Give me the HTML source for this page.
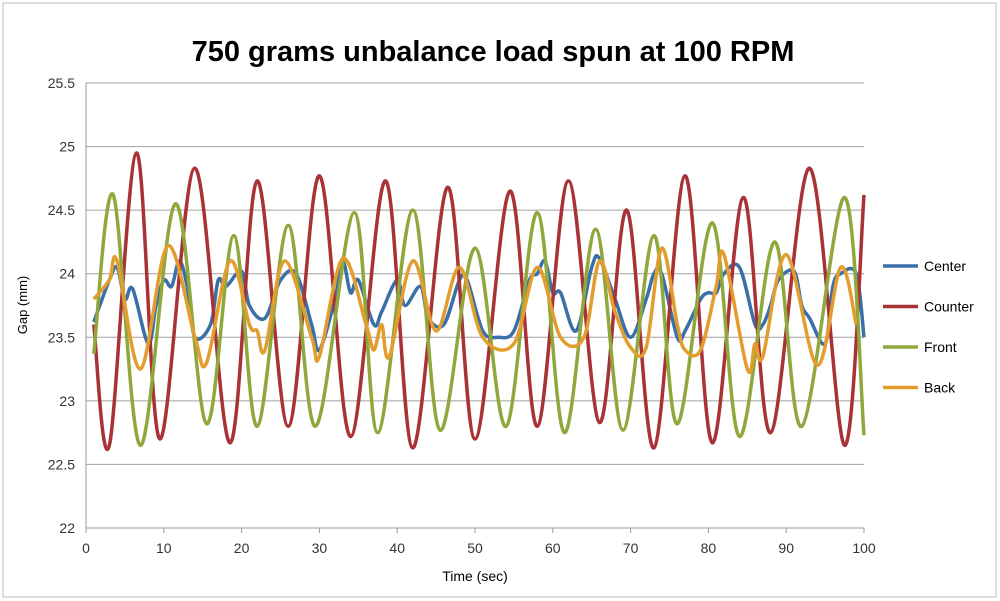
<!DOCTYPE html>
<html><head><meta charset="utf-8"><style>
body{margin:0;background:#fff;font-family:"Liberation Sans",sans-serif}
svg{display:block}
</style></head><body>
<svg id="chart" width="1000" height="601">
<rect x="3" y="3" width="993" height="594" fill="#fff" stroke="#bcbcbc"/>
<text x="493" y="61" text-anchor="middle" font-size="29" font-weight="bold" fill="#000">750 grams unbalance load spun at 100 RPM</text>
<text transform="translate(27,305) rotate(-90)" text-anchor="middle" font-size="13">Gap (mm)</text>
<text x="475" y="581" text-anchor="middle" font-size="14">Time (sec)</text>
<g id="grid"></g><g id="series"></g><g id="legend"></g>
</svg>
<script>
const yTicks=[22,22.5,23,23.5,24,24.5,25,25.5];
const xTicks=[0,10,20,30,40,50,60,70,80,90,100];
const names=["Center","Counter","Front","Back"];
const colors=["#3a6fa8","#a83236","#8fa83c","#e39d2f"];
const centerT=[1,3,4,5,6,8,9,10,11,12,13,14,16,17,18,20,21,23,25,27,29,30,32,33,34,35,37,38,40,41,43,44,46,48,49,51,53,55,57,58,59,60,61,63,65,66,68,70,72,73,74,76,77,79,80,81,82,84,86,87,88,89,91,92,93,95,96,97,99,100];
const centerV=[23.62,23.95,24.05,23.8,23.88,23.45,23.75,23.95,23.9,24.1,23.9,23.5,23.6,23.95,23.9,24.02,23.75,23.65,23.95,24.0,23.6,23.4,23.8,24.1,23.85,23.95,23.6,23.7,23.95,23.75,23.9,23.65,23.6,23.95,23.95,23.55,23.5,23.55,23.95,24.0,24.1,23.85,23.85,23.55,24.05,24.12,23.8,23.5,23.8,24.0,24.0,23.5,23.55,23.8,23.85,23.85,24.0,24.05,23.6,23.6,23.75,23.95,24.02,23.75,23.65,23.45,23.9,24.0,24.0,23.5];
const counterT=[1,3,6.5,9.5,14,18.5,22,26,30,34,38.5,42,46.5,50,54.5,58,62,66,69.5,73,77,80.5,84.5,88,93,97.5,100];
const counterV=[23.6,22.65,24.95,22.7,24.83,22.67,24.73,22.8,24.77,22.72,24.73,22.63,24.68,22.7,24.65,22.8,24.73,22.83,24.5,22.63,24.77,22.67,24.6,22.75,24.83,22.65,24.62];
const frontT=[1,3.5,7,11.5,15.5,19,22,26,29.5,34.5,37.5,42,45.5,50,54,58,61.5,65.5,69,73,76,80.5,84,88.5,92,97.5,100];
const frontV=[23.37,24.62,22.65,24.55,22.82,24.3,22.8,24.38,22.8,24.48,22.75,24.5,22.77,24.2,22.8,24.48,22.75,24.35,22.77,24.3,22.82,24.4,22.72,24.25,22.8,24.6,22.73];
const backT=[1,3,4,7,10.5,14,15.5,18.5,21,22,23,25.5,29,30,33,36,37,38,39,42,45,48,51,55,58,61,64,66,68,70,72,74,76,77,79,81,82,85,86,87,90,94,97,99];
const backV=[23.8,23.95,24.1,23.25,24.22,23.5,23.3,24.1,23.6,23.55,23.4,24.1,23.5,23.35,24.12,23.6,23.4,23.6,23.35,24.1,23.55,24.05,23.5,23.45,24.05,23.5,23.5,24.1,23.7,23.42,23.42,24.2,23.6,23.4,23.4,23.9,24.15,23.25,23.45,23.35,24.15,23.28,24.05,23.6];
const X0=86,X1=864,Y0=528,Y1=83;
const sx=t=>X0+(t-0)/100*(X1-X0);
const sy=v=>Y0-(v-22)/3.5*(Y0-Y1);
const NS="http://www.w3.org/2000/svg";
const grid=document.getElementById('grid');
yTicks.forEach(v=>{
 const l=document.createElementNS(NS,'line');
 l.setAttribute('x1',X0);l.setAttribute('x2',X1);l.setAttribute('y1',sy(v));l.setAttribute('y2',sy(v));
 l.setAttribute('stroke',v===22?'#999':'#a0a0a0');l.setAttribute('stroke-width','1');
 
 
 grid.appendChild(l);
 const tx=document.createElementNS(NS,'text');
 tx.setAttribute('x',75);tx.setAttribute('y',sy(v)+5);tx.setAttribute('text-anchor','end');tx.setAttribute('font-size','14');tx.setAttribute('fill','#333');
 tx.textContent=String(v);
 
 
 grid.appendChild(tx);
});
const ya=document.createElementNS(NS,'line');
ya.setAttribute('x1',X0);ya.setAttribute('x2',X0);ya.setAttribute('y1',Y1);ya.setAttribute('y2',Y0);ya.setAttribute('stroke','#999');


grid.appendChild(ya);
xTicks.forEach(t=>{
 const tk=document.createElementNS(NS,'line');
 tk.setAttribute('x1',sx(t));tk.setAttribute('x2',sx(t));tk.setAttribute('y1',Y0);tk.setAttribute('y2',Y0+5);tk.setAttribute('stroke','#999');
 
 
 grid.appendChild(tk);
 const tx=document.createElementNS(NS,'text');
 tx.setAttribute('x',sx(t));tx.setAttribute('y',Y0+25);tx.setAttribute('text-anchor','middle');tx.setAttribute('font-size','14');tx.setAttribute('fill','#333');
 tx.textContent=String(t);
 
 
 grid.appendChild(tx);
});
function smooth(ts,vs){
 const p=ts.map((t,i)=>[sx(t),sy(vs[i])]);
 let d='M'+p[0][0]+','+p[0][1];
 for(let i=0;i<p.length-1;i++){
  const a=p[i-1]||p[i],b=p[i],c=p[i+1],e=p[i+2]||c;
  const c1=[b[0]+(c[0]-a[0])/6,b[1]+(c[1]-a[1])/6],c2=[c[0]-(e[0]-b[0])/6,c[1]-(e[1]-b[1])/6];
  d+=' C'+c1+' '+c2+' '+c;
 }
 return d;
}
const ser=document.getElementById('series');
const data=[[centerT,centerV],[counterT,counterV],[frontT,frontV],[backT,backV]];
[0,1,2,3].forEach(i=>{
 const pth=document.createElementNS(NS,'path');
 pth.setAttribute('d',smooth(data[i][0],data[i][1]));
 pth.setAttribute('fill','none');pth.setAttribute('stroke',colors[i]);pth.setAttribute('stroke-width','3.5');pth.setAttribute('stroke-linejoin','round');
 
 
 ser.appendChild(pth);
});
const lg=document.getElementById('legend');
names.forEach((n,i)=>{
 const y=266+i*40.5;
 const l=document.createElementNS(NS,'line');
 l.setAttribute('x1',883);l.setAttribute('x2',918);l.setAttribute('y1',y);l.setAttribute('y2',y);l.setAttribute('stroke',colors[i]);l.setAttribute('stroke-width','3.5');
 
 
 lg.appendChild(l);
 const tx=document.createElementNS(NS,'text');
 tx.setAttribute('x',924);tx.setAttribute('y',y+5);tx.setAttribute('font-size','14');
 tx.textContent=n;
 
 
 lg.appendChild(tx);
});
</script>
</body></html>
